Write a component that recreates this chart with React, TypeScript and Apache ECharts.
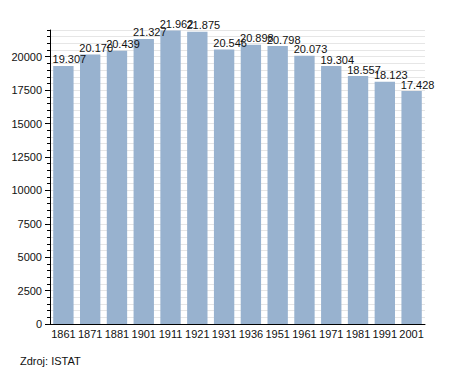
import React, { useEffect, useRef } from "react";
import * as echarts from "echarts";

const categories = ["1861", "1871", "1881", "1901", "1911", "1921", "1931", "1936", "1951", "1961", "1971", "1981", "1991", "2001"];
const population = [19307, 20170, 20439, 21327, 21962, 21875, 20546, 20898, 20798, 20073, 19304, 18557, 18123, 17428];
const sourceText = "Zdroj: ISTAT";

const fmt = (v: number) => {
  const s = String(Math.round(v));
  return s.replace(/\B(?=(\d{3})+(?!\d))/g, ".");
};

export default function App() {
  const ref = useRef<HTMLDivElement>(null);
  useEffect(() => {
    if (!ref.current) return;
    const chart = echarts.init(ref.current, undefined, { renderer: "svg" });
    const font = "Liberation Sans, Arial, sans-serif";
    chart.setOption({
      animation: false,
      textStyle: { fontFamily: font },
      grid: { left: 50, right: 30, top: 30, bottom: 49, containLabel: false },
      xAxis: {
        type: "category",
        data: categories,
        axisLine: { show: true, lineStyle: { color: "#000", width: 1 } },
        axisTick: { show: false },
        axisLabel: { color: "#111", fontSize: 11, margin: 4, fontFamily: font, interval: 0 },
      },
      yAxis: [
        {
          type: "value",
          min: 0,
          max: 22000,
          interval: 2500,
          axisLine: { show: true, lineStyle: { color: "#000", width: 1 } },
          axisTick: { show: true, length: 5, lineStyle: { color: "#000" } },
          axisLabel: {
            color: "#111",
            fontSize: 11,
            margin: 8,
            fontFamily: font,
            showMaxLabel: false,
            formatter: (v: number) => (v % 2500 === 0 ? String(v) : ""),
          },
          splitLine: { show: true, lineStyle: { color: "#c8c8c8", width: 1 } },
        },
        {
          type: "value",
          position: "left",
          min: 0,
          max: 22000,
          interval: 500,
          axisLine: { show: false },
          axisTick: { show: true, length: 3, lineStyle: { color: "#000" } },
          axisLabel: { show: false },
          splitLine: { show: true, lineStyle: { color: "#e6e6e6", width: 1 } },
        },
      ],
      series: [
        {
          type: "bar",
          data: population,
          yAxisIndex: 0,
          barCategoryGap: "24%",
          itemStyle: { color: "#98b2cf" },
          z: 3,
          label: {
            show: true,
            position: "top",
            offset: [6, 1],
            distance: 2,
            color: "#111",
            fontSize: 11,
            fontFamily: font,
            formatter: (p: any) => fmt(p.value),
          },
        },
      ],
      graphic: [
        {
          type: "text",
          left: 20,
          top: 355,
          style: { text: sourceText, fill: "#111", font: `11px ${font}` },
        },
      ],
    });
    return () => chart.dispose();
  }, []);
  return (
    <div
      ref={ref}
      style={{ position: "absolute", left: 0, top: 0, width: 455, height: 373 }}
    />
  );
}
